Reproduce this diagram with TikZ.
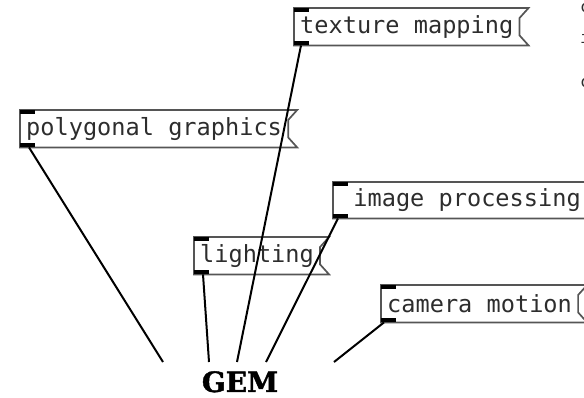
\documentclass[tikz,border=0pt]{standalone}
\usepackage{fontspec}
\usepackage{tikz}
\usetikzlibrary{positioning,calc}
\newfontfamily\pdfont{DejaVu Sans Mono}
\newfontfamily\gemfont[BoldFeatures={FakeBold=1.6}]{DejaVu Serif}
\definecolor{pdline}{RGB}{85,85,85}
\definecolor{pdtext}{RGB}{45,45,45}

\begin{document}
\begin{tikzpicture}[
  x=1pt,y=-1pt,
  msg/.style={anchor=north west,font=\pdfont\fontsize{23.6}{28}\selectfont,
    text=pdtext,inner xsep=6pt,inner ysep=0pt,minimum height=37pt},
  frame/.style={draw=pdline,line width=1.7pt,line join=miter},
  port/.style={fill=black},
  wire/.style={black,line width=2pt},
  frag/.style={font=\pdfont\fontsize{16.5}{20}\selectfont,text=pdtext,inner sep=0pt},
]
  \useasboundingbox (0,0) rectangle (584,397);
  \node[msg] (tex) at (294,8) {texture mapping};
  \node[msg] (poly) at (20,110) {polygonal graphics};
  \node[msg,minimum height=36pt] (img) at (333,182) {~image processing};
  \node[msg] (light) at (194,237) {lighting};
  \node[msg] (cam) at (381,285) {camera motion};
  \node[anchor=north,inner sep=0pt,
    font=\gemfont\bfseries\fontsize{28}{32}\selectfont] (gem) at (240,371) {GEM};
  \foreach \t/\y [count=\i] in {c/12,i/43,c/87}
    \node[frag,anchor=base west] (frag\i) at (580,\y) {\t};
  \foreach \n in {tex,poly,img,light,cam} {
    \draw[frame] (\n.north west) -- ([xshift=9pt]\n.north east)
      -- ([yshift=-10pt]\n.north east) -- ([yshift=10pt]\n.south east)
      -- ([xshift=9pt]\n.south east) -- (\n.south west) -- cycle;
    \fill[port] (\n.north west) rectangle ++(15,4);
    \fill[port] (\n.south west) rectangle ++(15,-4);
  }
  \foreach \n/\dx/\ex in {poly/9/-77,light/9/-31,tex/7/-3,img/5/26,cam/3/94}
    \draw[wire] ([xshift=\dx pt]\n.south west) -- ([xshift=\ex pt,yshift=9pt]gem.north);
\end{tikzpicture}
\end{document}
